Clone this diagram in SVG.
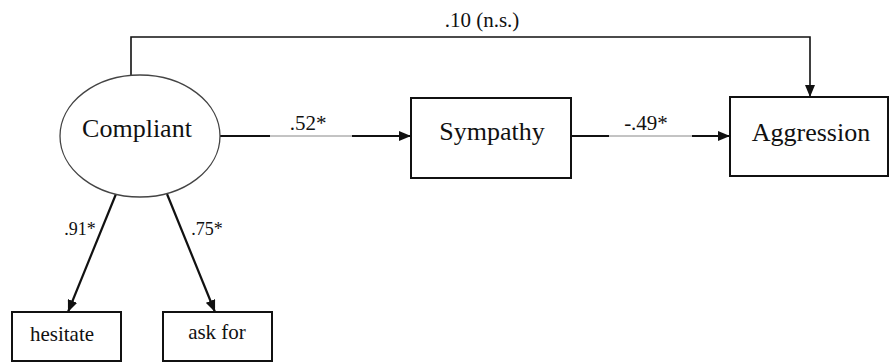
<svg xmlns="http://www.w3.org/2000/svg" width="889" height="362" viewBox="0 0 889 362" font-family="'Liberation Serif', 'Times New Roman', Times, 'DejaVu Serif', serif">
<style>
text{font-family:'Liberation Serif','Times New Roman',Times,'DejaVu Serif',serif;fill:#111;}
.node{font-size:26px;text-anchor:middle;}
.box{fill:#fff;stroke:#111;stroke-width:2;}
.lbl{font-size:21px;text-anchor:middle;}
.sm{font-size:18px;text-anchor:middle;}
.thick{stroke:#111;stroke-width:2.2;fill:none;}
.thin{stroke:#888;stroke-width:1;fill:none;}
.mid{stroke:#111;stroke-width:1.6;fill:none;}
</style>
<defs>
<marker id="ah" markerWidth="12" markerHeight="10" refX="12" refY="5" orient="auto" markerUnits="userSpaceOnUse">
<path d="M0,0 L12,5 L0,10 Z" fill="#111"/>
</marker>
</defs>
<rect width="889" height="362" fill="#fff"/>
<g id="connectors">
<path class="mid" d="M131,76 V37 H810 V97" marker-end="url(#ah)"/>
<line class="thick" x1="220" y1="136" x2="270" y2="136"/>
<line class="thin" x1="270" y1="136" x2="352" y2="136"/>
<line class="thick" x1="352" y1="136" x2="411" y2="136" marker-end="url(#ah)"/>
<line class="thick" x1="571" y1="136" x2="609" y2="136"/>
<line class="thin" x1="609" y1="136" x2="692" y2="136"/>
<line class="thick" x1="692" y1="136" x2="730" y2="136" marker-end="url(#ah)"/>
<line class="thick" x1="116" y1="194" x2="68" y2="312" marker-end="url(#ah)"/>
<line class="thick" x1="167" y1="194" x2="215" y2="312" marker-end="url(#ah)"/>
<text class="lbl" x="482" y="27">.10 (n.s.)</text>
<text class="lbl" x="308" y="130">.52*</text>
<text class="lbl" x="646" y="130">-.49*</text>
<text class="sm" x="80" y="235">.91*</text>
<text class="sm" x="207" y="235">.75*</text>
</g>
<g id="compliant">
<ellipse cx="140" cy="136" rx="80" ry="61" fill="#fff" stroke="#444" stroke-width="1.3"/>
<text class="node" x="137" y="137">Compliant</text>
</g>
<g id="sympathy">
<rect class="box" x="411" y="98" width="160" height="80"/>
<text class="node" x="492" y="140">Sympathy</text>
</g>
<g id="aggression">
<rect class="box" x="730" y="97" width="158" height="79"/>
<text class="node" x="811" y="141">Aggression</text>
</g>
<g id="hesitate">
<rect class="box" x="12" y="312" width="109" height="49"/>
<text class="lbl" x="62" y="341">hesitate</text>
</g>
<g id="askfor">
<rect class="box" x="163" y="312" width="109" height="49"/>
<text class="lbl" x="217" y="339">ask for</text>
</g>
</svg>
